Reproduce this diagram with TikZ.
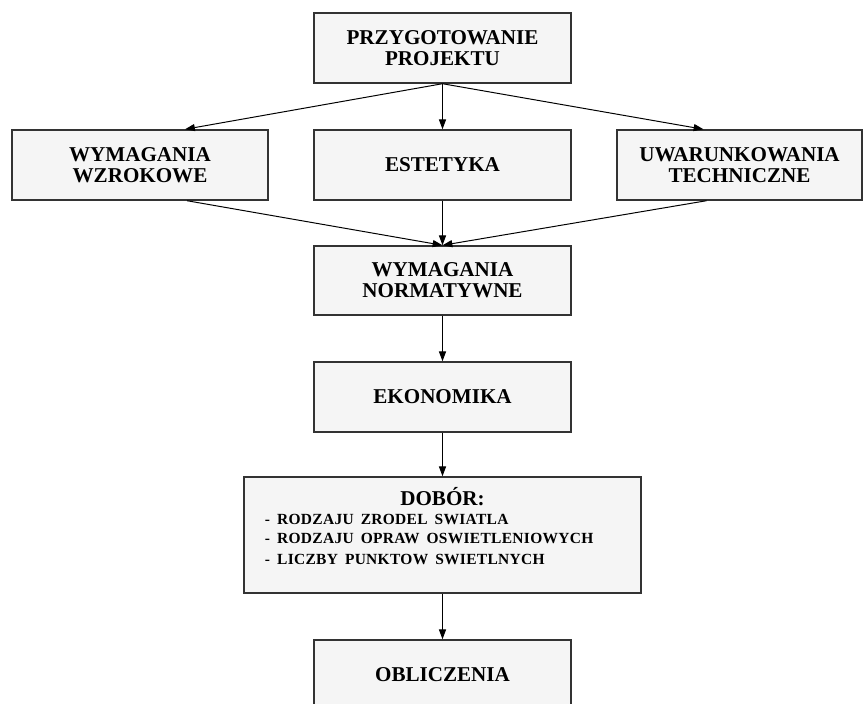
\documentclass[tikz,border=0pt]{standalone}
\usepackage{fontspec}
\setmainfont{Liberation Serif}
\usetikzlibrary{arrows.meta, positioning, calc}

\newcommand{\headfont}{\bfseries\fontsize{15}{15}\selectfont}
\newcommand{\listfont}{\bfseries\fontsize{11}{13.5}\selectfont\addfontfeature{LetterSpace=2}}

\begin{document}
\begin{tikzpicture}[
    x=0.025cm, y=-0.025cm,
    box/.style={rectangle, draw=black!80, line width=1pt, fill=black!4, minimum height=1.75cm, align=center, font=\headfont, inner sep=2pt},
    mainbox/.style={box, minimum width=6.425cm},
    arrow/.style={-{Triangle[length=7pt, width=5pt]}, line width=0.7pt, draw=black}
]
\useasboundingbox[fill=white] (0,0) rectangle (864,704);

% Top
\node[mainbox] (prep) at (442.5, 48) {PRZYGOTOWANIE\\PROJEKTU};

% ==================== Second row ====================
\node[box, minimum width=6.4cm] (wzrok) at (140, 165) {WYMAGANIA\\WZROKOWE};
\node[mainbox] (estet) at (442.5, 165) {ESTETYKA};
\node[box, minimum width=6.125cm] (techn) at (739.5, 165) {UWARUNKOWANIA\\TECHNICZNE};

\draw[arrow] (prep.south) -- ([xshift=1.125cm]wzrok.north);
\draw[arrow] (prep.south) -- (estet.north);
\draw[arrow] (prep.south) -- ([xshift=-0.9cm]techn.north);

% ==================== Middle column ====================
\node[mainbox, minimum height=1.725cm] (norm) at (442.5, 280.5) {WYMAGANIA\\NORMATYWNE};

\draw[arrow] ([xshift=1.175cm]wzrok.south) -- (norm.north);
\draw[arrow] (estet.south) -- (norm.north);
\draw[arrow] ([xshift=-0.825cm]techn.south) -- (norm.north);

\node[mainbox] (ekon) at (442.5, 397) {EKONOMIKA};
\draw[arrow] (norm.south) -- (ekon.north);

\node[box, minimum width=9.925cm, minimum height=2.9cm, text width=8.875cm, inner xsep=0.525cm, inner ysep=0.2cm, align=left] (dobor) at (442.5, 535)
    {\centering{\headfont DOBÓR:}\par\raggedright\listfont
     - RODZAJU ZRODEL SWIATLA\par
     - RODZAJU OPRAW OSWIETLENIOWYCH\par
     - LICZBY PUNKTOW SWIETLNYCH\rule[-0.45cm]{0pt}{0.1pt}};
\draw[arrow] (ekon.south) -- (dobor.north);

% Bottom
\node[mainbox] (oblicz) at (442.5, 675) {OBLICZENIA};
\draw[arrow] (dobor.south) -- (oblicz.north);

\end{tikzpicture}
\end{document}
